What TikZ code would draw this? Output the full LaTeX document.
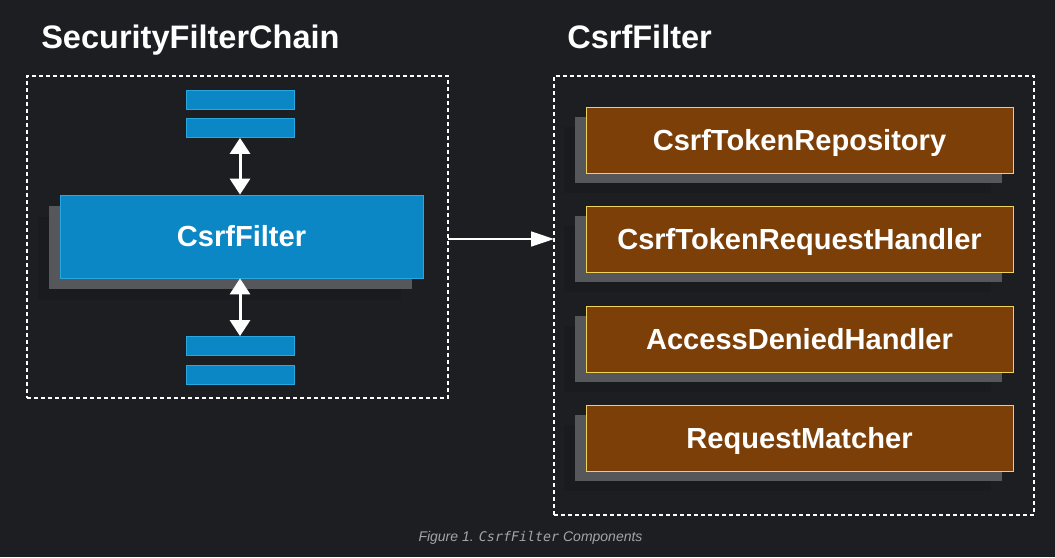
\documentclass[tikz,border=0pt]{standalone}
\usepackage{fontspec}
\setmainfont{Liberation Sans}
\newfontfamily\capmono{DejaVu Sans Mono}
\usetikzlibrary{arrows.meta}
\definecolor{bgc}{RGB}{28,30,34}
\definecolor{bluefill}{RGB}{11,135,197}
\definecolor{blueline}{RGB}{41,168,224}
\definecolor{brownfill}{RGB}{123,63,7}
\definecolor{yellowline}{RGB}{242,209,90}
\definecolor{shadowc}{RGB}{85,87,90}
\definecolor{faintc}{RGB}{25,27,31}
\definecolor{capc}{RGB}{165,165,165}
\tikzset{
  pxbox/.style={inner sep=0pt, outer sep=0pt},
  frame/.style={pxbox, draw=white, line width=1.65pt, dash pattern=on 3pt off 2.25pt},
  boxtext/.style={text=white, text height=15.6pt, text depth=0pt,
     font=\bfseries\fontsize{21.8pt}{24pt}\selectfont},
  bluebox/.style={pxbox, fill=bluefill, draw=blueline, line width=0.75pt},
  brownbox/.style={pxbox, fill=brownfill, draw=yellowline, line width=0.75pt,
     minimum width=427*0.75pt, minimum height=66*0.75pt, boxtext},
  shadowbox/.style={pxbox, fill=shadowc},
  faintbox/.style={pxbox, fill=faintc},
  title/.style={inner sep=0pt, anchor=base west, text=white,
     font=\bfseries\fontsize{24.4pt}{28pt}\selectfont},
  dblarrow/.style={draw=white, line width=2.25pt, {Triangle[length=12pt,width=15pt]}-{Triangle[length=12pt,width=15pt]}, shorten <=0.3pt, shorten >=0.3pt},
  linkarrow/.style={draw=white, line width=1.1pt, -{Triangle[length=17.25pt,width=11.25pt]}}
}
\begin{document}
\begin{tikzpicture}[x=0.75pt,y=-0.75pt]
\fill[bgc] (0,0) rectangle (1055,557);
\useasboundingbox (0,0) rectangle (1055,557);

% titles
\node[title] (t1) at (41,48) {SecurityFilterChain};
\node[title] (t2) at (567,48) {CsrfFilter};

% frames
\node[frame, minimum width=421*0.75pt, minimum height=322*0.75pt] (leftframe) at (237.5,237) {};
\node[frame, minimum width=480*0.75pt, minimum height=439*0.75pt] (rightframe) at (794,295.5) {};

% main CsrfFilter with shadows
\node[faintbox, minimum width=363*0.75pt, minimum height=83*0.75pt] (mainf) at (219.5,258.5) {};
\node[shadowbox, minimum width=363*0.75pt, minimum height=83*0.75pt] (mains) at (230.5,247.5) {};
\node[bluebox, minimum width=363*0.75pt, minimum height=83*0.75pt, boxtext] (main) at (241.5,236.5) {CsrfFilter};

% small filter bars
\foreach \n/\yy in {bar1/99.5, bar2/128, bar3/346, bar4/374.5}{
  \node[bluebox, minimum width=108*0.75pt, minimum height=19*0.75pt] (\n) at (240,\yy) {};
}

% double arrows
\draw[dblarrow] (bar2.south) -- (bar2.south |- main.north);
\draw[dblarrow] (bar3.north |- main.south) -- (bar3.north);

% link arrow
\coordinate (linkstart) at ([yshift=-1.5pt]leftframe.east);
\draw[linkarrow] (linkstart) -- (rightframe.west |- linkstart);

% components
\foreach \n/\yy/\txt in {c1/140/CsrfTokenRepository, c2/239/CsrfTokenRequestHandler, c3/339/AccessDeniedHandler, c4/438/RequestMatcher}{
  \node[faintbox, minimum width=427*0.75pt, minimum height=66*0.75pt] (\n f) at (777.5,\yy+20) {};
  \node[shadowbox, minimum width=427*0.75pt, minimum height=66*0.75pt] (\n s) at (788.5,\yy+10) {};
  \node[brownbox] (\n) at (799.5,\yy) {\txt};
}

% caption
\node[inner sep=0pt, anchor=base, text=capc, font=\itshape\fontsize{10.5pt}{12pt}\selectfont] (cap) at (530.5,541)
  {Figure 1. {\capmono\itshape\fontsize{10pt}{12pt}\selectfont CsrfFilter} Components};
\end{tikzpicture}
\end{document}
